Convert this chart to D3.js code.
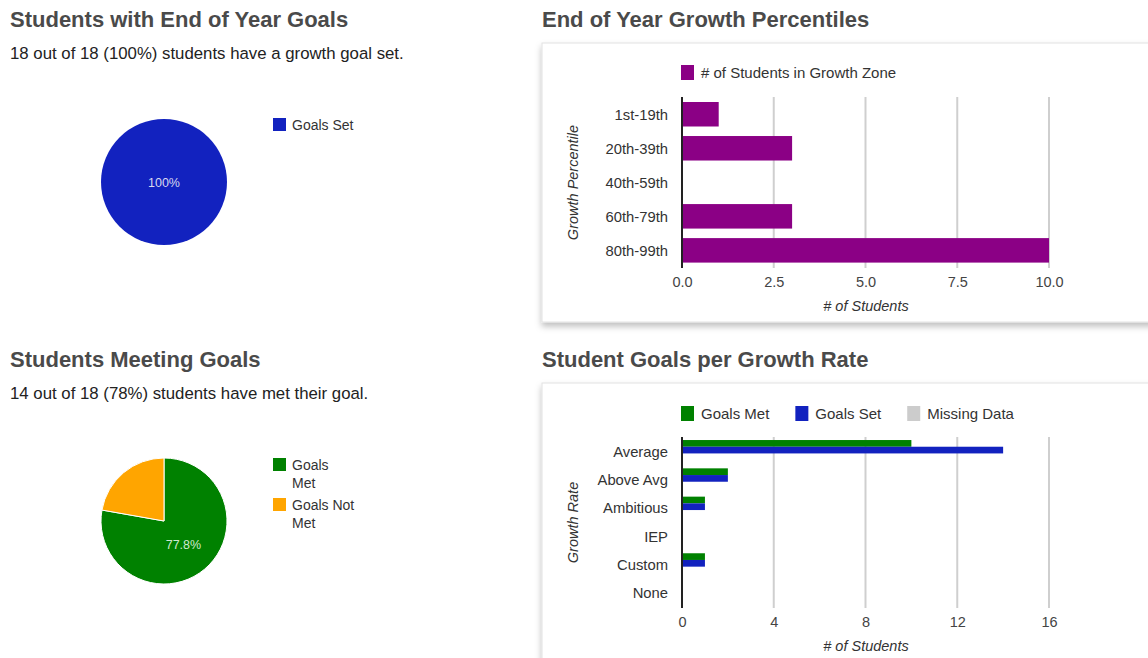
<!DOCTYPE html>
<html><head><meta charset="utf-8">
<script src="https://cdn.jsdelivr.net/npm/d3@7"></script>
<style>
body{margin:0;background:#fff;}
text{font-family:"Liberation Sans",Arial,Helvetica,sans-serif;}
</style></head>
<body><svg id="c" width="1148" height="658"></svg>
<script>
// ---- data ----
const goalsSetLabels = ["Goals Set"];
const goalsSetValues = [18];
const meetLabels = ["Goals Met", "Goals Not Met"];
const meetValues = [14, 4];
const percentileCats = ["1st-19th", "20th-39th", "40th-59th", "60th-79th", "80th-99th"];
const percentileValues = [1, 3, 0, 3, 10];
const percentileTicks = [0, 2.5, 5, 7.5, 10];
const rateCats = ["Average", "Above Avg", "Ambitious", "IEP", "Custom", "None"];
const rateSeries = ["Goals Met", "Goals Set", "Missing Data"];
const rateMet = [10, 2, 1, 0, 1, 0];
const rateSet = [14, 2, 1, 0, 1, 0];
const rateMissing = [0, 0, 0, 0, 0, 0];
const rateTicks = [0, 4, 8, 12, 16];

const svg = d3.select("#c");
const defs = svg.append("defs");
const f = defs.append("filter").attr("id","sh").attr("x","-5%").attr("y","-5%").attr("width","110%").attr("height","120%");
f.append("feDropShadow").attr("dx",0).attr("dy",4).attr("stdDeviation",3).attr("flood-color","#000").attr("flood-opacity",0.25);

function title(x,y,t){svg.append("text").attr("x",x).attr("y",y).attr("font-size",22).attr("font-weight","bold").attr("fill","#4a4a4a").text(t);}
function sub(x,y,t){svg.append("text").attr("x",x).attr("y",y).attr("font-size",16.8).attr("fill","#222").text(t);}

title(10,27,"Students with End of Year Goals");
sub(10,59,"18 out of 18 (100%) students have a growth goal set.");
title(10,367,"Students Meeting Goals");
sub(10,399,"14 out of 18 (78%) students have met their goal.");
title(542,27,"End of Year Growth Percentiles");
title(542,367,"Student Goals per Growth Rate");

// ---- pies ----
function pie(cx,cy,r,labels,values,colors,legY,labelColor){
  const g = svg.append("g").attr("transform",`translate(${cx},${cy})`);
  const arcs = d3.pie().sort(null)(values);
  const arc = d3.arc().innerRadius(0).outerRadius(r);
  g.selectAll("path").data(arcs).join("path").attr("d",arc).attr("fill",(d,i)=>colors[i])
    .attr("stroke","#fff").attr("stroke-width",arcs.length>1?1:0);
  const tot = d3.sum(values);
  arcs.forEach((d,i)=>{
    const p = d.value/tot;
    if(p<0.25 && arcs.length>1) return;
    const c = arcs.length>1 ? d3.arc().innerRadius(0).outerRadius(r*0.96).centroid(d) : [0,0];
    g.append("text").attr("x",c[0]).attr("y",c[1]+4.5).attr("text-anchor","middle").attr("font-size",12.5)
      .attr("fill",labelColor).text((p*100).toFixed(p===1?0:1)+"%");
  });
  // legend
  let y = legY;
  labels.forEach((l,i)=>{
    svg.append("rect").attr("x",273).attr("y",y).attr("width",13).attr("height",13).attr("fill",colors[i]);
    const words = l.split(" ");
    const lines = (labels.length>1 && words.length>1) ? [words.slice(0,-1).join(" "), words[words.length-1]] : [l];
    const t = svg.append("text").attr("x",292).attr("y",y+11.5).attr("font-size",14).attr("fill","#333");
    lines.forEach((ln,k)=>t.append("tspan").attr("x",292).attr("dy",k?18:0).text(ln));
    y += lines.length*18+4;
  });
}
pie(164,182,63,goalsSetLabels,goalsSetValues,["#1222bf"],118,"#d8d8ef");
pie(164,521,63,meetLabels,meetValues,["#008100","#ffa500"],458,"#cfe8cf");

// ---- panels ----
function panel(y,h){svg.append("rect").attr("x",542).attr("y",y).attr("width",640).attr("height",h)
  .attr("fill","#fff").attr("stroke","#e2e2e2").attr("filter","url(#sh)");}
panel(43,279);
panel(383,320);

function hbar(cfg){
  const x = d3.scaleLinear().domain([0,cfg.max]).range([682,1049]);
  const y = d3.scaleBand().domain(cfg.cats).range([cfg.bandTop,cfg.bandBottom]).paddingInner(cfg.pad).paddingOuter(0.1);
  const g = svg.append("g");
  // grid
  g.selectAll("line.grid").data(cfg.ticks.slice(1)).join("line").attr("x1",d=>x(d)).attr("x2",d=>x(d))
    .attr("y1",cfg.top).attr("y2",cfg.bottom).attr("stroke","#cfcfcf").attr("stroke-width",2);
  // x axis labels
  const ax = g.append("g").attr("transform",`translate(0,${cfg.bottom})`)
    .call(d3.axisBottom(x).tickValues(cfg.ticks).tickFormat(cfg.fmt).tickSize(0).tickPadding(9));
  ax.select(".domain").remove();
  ax.selectAll("text").attr("font-size",14.5).attr("fill","#444").attr("font-family","Liberation Sans, Arial, sans-serif");
  // y axis labels
  const ay = g.append("g").attr("transform",`translate(668,${cfg.labelShift})`)
    .call(d3.axisLeft(y).tickSize(0).tickPadding(0));
  ay.select(".domain").remove();
  ay.selectAll("text").attr("font-size",14.8).attr("fill","#333").attr("font-family","Liberation Sans, Arial, sans-serif");
  // bars
  const sub = d3.scaleBand().domain(cfg.series.map((s,i)=>i)).range([0,y.bandwidth()]);
  cfg.series.forEach((vals,si)=>{
    g.selectAll(null).data(vals).join("rect")
      .attr("x",x(0)).attr("y",(d,i)=>y(cfg.cats[i])+sub(si)).attr("height",sub.bandwidth())
      .attr("width",d=>x(d)-x(0)).attr("fill",cfg.colors[si]);
  });
  // baseline
  g.append("line").attr("x1",682).attr("x2",682).attr("y1",cfg.top).attr("y2",cfg.bottom).attr("stroke","#222").attr("stroke-width",2);
  // titles
  svg.append("text").attr("x",866).attr("y",cfg.bottom+43).attr("text-anchor","middle").attr("font-size",14.5)
    .attr("font-style","italic").attr("fill","#333").text("# of Students");
  svg.append("text").attr("transform",`translate(578,${(cfg.top+cfg.bottom)/2}) rotate(-90)`).attr("text-anchor","middle")
    .attr("font-size",14.5).attr("font-style","italic").attr("fill","#333").text(cfg.yTitle);
  // legend
  let lx = 681;
  cfg.legend.forEach((l,i)=>{
    svg.append("rect").attr("x",lx).attr("y",cfg.legY).attr("width",13).attr("height",15).attr("fill",cfg.legColors[i]);
    const t = svg.append("text").attr("x",lx+20).attr("y",cfg.legY+12.5).attr("font-size",15).attr("fill","#333").text(l);
    lx += t.node().getComputedTextLength()+20+26;
  });
}

hbar({max:10,cats:percentileCats,series:[percentileValues],colors:["#8b0085"],ticks:percentileTicks,
  fmt:d3.format(".1f"),top:97,bottom:268,bandTop:98.6,bandBottom:266,pad:0.28,labelShift:1,yTitle:"Growth Percentile",
  legend:["# of Students in Growth Zone"],legColors:["#8b0085"],legY:65});

hbar({max:16,cats:rateCats,series:[rateMet,rateSet,rateMissing],colors:["#008100","#1222bf","#cccccc"],ticks:rateTicks,
  fmt:d3.format("d"),top:437,bottom:608,bandTop:437.2,bandBottom:604.5,pad:0.29,labelShift:2,yTitle:"Growth Rate",
  legend:rateSeries,legColors:["#008100","#1222bf","#cccccc"],legY:406});
</script></body></html>
